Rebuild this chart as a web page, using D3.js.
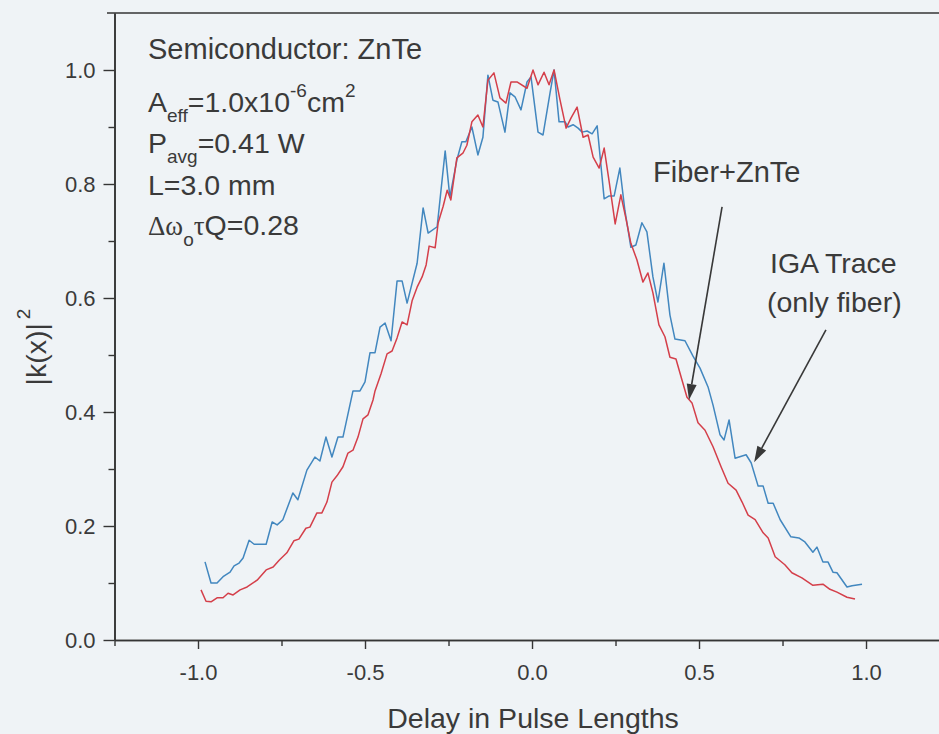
<!DOCTYPE html>
<html><head><meta charset="utf-8">
<script src="https://cdn.jsdelivr.net/npm/d3@7"></script>
<style>
html,body{margin:0;padding:0;background:#eef2f5;}
svg{display:block;font-family:Arial,"Liberation Sans",sans-serif;}
</style></head><body>
<svg id="chart" width="939" height="734"></svg>
<script>
// IGA trace (only fiber) — blue
const igaTrace = [
[-0.979,0.137],[-0.961,0.100],[-0.943,0.100],[-0.925,0.111],[-0.904,0.119],[-0.892,0.130],
[-0.877,0.135],[-0.865,0.144],[-0.847,0.175],[-0.832,0.168],[-0.796,0.168],[-0.778,0.207],
[-0.763,0.202],[-0.746,0.211],[-0.716,0.258],[-0.701,0.246],[-0.674,0.298],[-0.650,0.321],
[-0.635,0.314],[-0.617,0.356],[-0.599,0.321],[-0.581,0.356],[-0.566,0.356],[-0.536,0.437],
[-0.515,0.437],[-0.500,0.453],[-0.485,0.504],[-0.470,0.504],[-0.455,0.549],[-0.440,0.556],
[-0.422,0.525],[-0.404,0.630],[-0.389,0.630],[-0.374,0.591],[-0.344,0.661],[-0.326,0.758],
[-0.311,0.714],[-0.284,0.725],[-0.260,0.858],[-0.246,0.777],[-0.225,0.842],[-0.210,0.874],
[-0.198,0.874],[-0.180,0.900],[-0.162,0.851],[-0.147,0.882],[-0.132,0.991],[-0.117,0.947],
[-0.102,0.944],[-0.081,0.891],[-0.066,0.960],[-0.051,0.953],[-0.033,0.930],[-0.015,0.979],
[-0.003,0.988],[0.018,0.891],[0.033,0.886],[0.054,0.960],[0.066,1.000],[0.081,0.909],
[0.099,0.909],[0.108,0.900],[0.123,0.904],[0.138,0.898],[0.150,0.891],[0.165,0.893],
[0.180,0.888],[0.195,0.902],[0.216,0.774],[0.231,0.779],[0.246,0.779],[0.263,0.828],
[0.278,0.754],[0.296,0.689],[0.311,0.693],[0.329,0.732],[0.344,0.716],[0.362,0.637],
[0.377,0.593],[0.395,0.661],[0.413,0.570],[0.428,0.528],[0.458,0.525],[0.482,0.498],
[0.503,0.477],[0.527,0.444],[0.542,0.412],[0.563,0.360],[0.575,0.351],[0.590,0.386],
[0.608,0.319],[0.641,0.325],[0.656,0.311],[0.677,0.270],[0.692,0.270],[0.707,0.240],
[0.722,0.240],[0.743,0.211],[0.775,0.181],[0.799,0.179],[0.817,0.172],[0.841,0.154],
[0.853,0.163],[0.871,0.137],[0.886,0.137],[0.901,0.119],[0.913,0.118],[0.943,0.093],
[0.958,0.095],[0.988,0.098]
];
// Fiber + ZnTe — red
const fiberZnTe = [
[-0.991,0.088],[-0.976,0.068],[-0.961,0.067],[-0.943,0.074],[-0.925,0.074],[-0.910,0.082],
[-0.895,0.079],[-0.874,0.088],[-0.853,0.093],[-0.823,0.105],[-0.796,0.123],[-0.775,0.128],
[-0.757,0.140],[-0.734,0.153],[-0.713,0.174],[-0.698,0.177],[-0.677,0.196],[-0.665,0.198],
[-0.644,0.223],[-0.629,0.223],[-0.614,0.242],[-0.599,0.277],[-0.584,0.288],[-0.566,0.304],
[-0.551,0.328],[-0.536,0.333],[-0.521,0.356],[-0.506,0.388],[-0.491,0.395],[-0.476,0.421],
[-0.470,0.437],[-0.452,0.467],[-0.434,0.502],[-0.419,0.507],[-0.404,0.530],[-0.389,0.558],
[-0.374,0.553],[-0.359,0.595],[-0.344,0.619],[-0.329,0.637],[-0.317,0.658],[-0.308,0.691],
[-0.290,0.688],[-0.281,0.732],[-0.266,0.761],[-0.254,0.789],[-0.243,0.772],[-0.225,0.846],
[-0.207,0.854],[-0.195,0.868],[-0.180,0.909],[-0.162,0.921],[-0.147,0.900],[-0.132,0.982],
[-0.114,0.995],[-0.096,0.951],[-0.078,0.942],[-0.063,0.979],[-0.045,0.979],[-0.015,0.968],
[0.003,1.000],[0.018,0.974],[0.036,0.996],[0.051,0.974],[0.066,1.000],[0.084,0.947],
[0.102,0.898],[0.117,0.916],[0.135,0.935],[0.153,0.882],[0.168,0.886],[0.183,0.847],
[0.201,0.828],[0.216,0.863],[0.231,0.804],[0.249,0.730],[0.266,0.781],[0.281,0.740],
[0.296,0.696],[0.314,0.667],[0.332,0.628],[0.347,0.644],[0.362,0.609],[0.380,0.553],
[0.398,0.532],[0.413,0.496],[0.431,0.493],[0.449,0.456],[0.464,0.426],[0.479,0.416],
[0.497,0.381],[0.518,0.368],[0.542,0.339],[0.566,0.304],[0.587,0.275],[0.611,0.263],
[0.629,0.242],[0.647,0.219],[0.668,0.211],[0.692,0.188],[0.707,0.179],[0.728,0.146],
[0.757,0.132],[0.778,0.118],[0.808,0.109],[0.841,0.096],[0.871,0.098],[0.892,0.089],
[0.913,0.084],[0.943,0.075],[0.967,0.072]
];
const xTicks = [-1.0, -0.5, 0.0, 0.5, 1.0];
const xMinorTicks = [-1.25, -0.75, -0.25, 0.25, 0.75];
const yTicks = [0.0, 0.2, 0.4, 0.6, 0.8, 1.0];
const yMinorTicks = [0.1, 0.3, 0.5, 0.7, 0.9];
const xTitle = "Delay in Pulse Lengths";
// arrows: [fromX, fromY, tipX, tipY] in data units
const fiberArrow = [0.569, 0.760, 0.470, 0.421];
const igaArrow = [0.880, 0.544, 0.665, 0.312];

const svg = d3.select("#chart");
const W = 939, H = 734;
const x = d3.scaleLinear().domain([-1.25, 1.22]).range([114.5, 939.5]);
const y = d3.scaleLinear().domain([0, 1.1]).range([640, 13]);
const ink = "#353535";
const fmt = d => d.toFixed(1);

svg.append("rect").attr("width", W).attr("height", H).attr("fill", "#eff3f6");

// axes
const gx = svg.append("g").attr("transform", "translate(0,640)")
  .call(d3.axisBottom(x).tickValues(xTicks).tickFormat(fmt).tickSize(9).tickPadding(15).tickSizeOuter(0));
svg.append("g").attr("transform", "translate(0,640)")
  .call(d3.axisBottom(x).tickValues(xMinorTicks).tickFormat("").tickSize(6).tickSizeOuter(0));
const gy = svg.append("g").attr("transform", "translate(114.5,0)")
  .call(d3.axisLeft(y).tickValues(yTicks).tickFormat(fmt).tickSize(11).tickPadding(8).tickSizeOuter(0));
svg.append("g").attr("transform", "translate(114.5,0)")
  .call(d3.axisLeft(y).tickValues(yMinorTicks).tickFormat("").tickSize(6).tickSizeOuter(0));
svg.selectAll(".domain").attr("stroke", ink).attr("stroke-width", 1.6);
svg.selectAll(".tick line").attr("stroke", ink).attr("stroke-width", 1.4);
svg.selectAll(".tick text").attr("fill", "#3a3a3a").attr("font-size", 22)
  .attr("font-family", "Arial, 'Liberation Sans', sans-serif");
gy.selectAll(".tick text").attr("dy", "0.34em");

// top frame line
svg.append("line").attr("x1", 107).attr("x2", W).attr("y1", 13).attr("y2", 13)
  .attr("stroke", ink).attr("stroke-width", 1.6);

// data lines
const line = d3.line().x(d => x(d[0])).y(d => y(d[1]));
svg.append("path").datum(igaTrace).attr("d", line).attr("fill", "none")
  .attr("stroke", "#4287bf").attr("stroke-width", 1.5).attr("stroke-linejoin", "round");
svg.append("path").datum(fiberZnTe).attr("d", line).attr("fill", "none")
  .attr("stroke", "#d43f4a").attr("stroke-width", 1.5).attr("stroke-linejoin", "round");

// axis titles
svg.append("text").attr("x", 533).attr("y", 728).attr("text-anchor", "middle")
  .attr("font-size", 28.5).attr("fill", "#3a3a3a").text(xTitle);
const yt = svg.append("text").attr("transform", "translate(46,347) rotate(-90)")
  .attr("text-anchor", "middle").attr("font-size", 28.5).attr("fill", "#3a3a3a");
yt.append("tspan").text("|k(x)|");
yt.append("tspan").attr("font-size", 19).attr("dy", -16).attr("dx", 4).text("2");

// annotation block
const tc = "#3a3a3a";
const serif = "'Liberation Serif','DejaVu Serif',serif";
const ann = svg.append("g").attr("fill", tc);
ann.append("text").attr("x", 148).attr("y", 59).attr("font-size", 29).text("Semiconductor: ZnTe");
let t = ann.append("text").attr("x", 148).attr("y", 112).attr("font-size", 28.5);
t.append("tspan").text("A");
t.append("tspan").attr("font-size", 19).attr("dy", 10).text("eff");
t.append("tspan").attr("dy", -10).text("=1.0x10");
t.append("tspan").attr("font-size", 19).attr("dy", -15).text("-6");
t.append("tspan").attr("dy", 15).text("cm");
t.append("tspan").attr("font-size", 19).attr("dy", -15).text("2");
t = ann.append("text").attr("x", 148).attr("y", 153).attr("font-size", 28.5);
t.append("tspan").text("P");
t.append("tspan").attr("font-size", 19).attr("dy", 10).text("avg");
t.append("tspan").attr("dy", -10).text("=0.41 W");
ann.append("text").attr("x", 148).attr("y", 195).attr("font-size", 28.5).text("L=3.0 mm");
t = ann.append("text").attr("x", 148).attr("y", 235).attr("font-size", 28.5);
t.append("tspan").attr("font-family", serif).attr("font-size", 27).text("Δω");
t.append("tspan").attr("font-size", 19).attr("dy", 11).text("o");
t.append("tspan").attr("dy", -11).attr("font-family", serif).attr("font-size", 27).text("τ");
t.append("tspan").text("Q=0.28");

ann.append("text").attr("x", 653).attr("y", 182).attr("font-size", 29).text("Fiber+ZnTe");
ann.append("text").attr("x", 770).attr("y", 273).attr("font-size", 28.5).text("IGA Trace");
ann.append("text").attr("x", 767).attr("y", 312).attr("font-size", 28.5).text("(only fiber)");

// arrows
function arrow(a) {
  const x1 = x(a[0]), y1 = y(a[1]), x2 = x(a[2]), y2 = y(a[3]);
  const ang = Math.atan2(y2 - y1, x2 - x1);
  const L = 16, hw = 5;
  const bx = x2 - L * Math.cos(ang), by = y2 - L * Math.sin(ang);
  svg.append("line").attr("x1", x1).attr("y1", y1).attr("x2", bx).attr("y2", by)
    .attr("stroke", "#383838").attr("stroke-width", 1.6);
  const px = -Math.sin(ang) * hw, py = Math.cos(ang) * hw;
  svg.append("polygon")
    .attr("points", [[x2, y2], [bx + px, by + py], [bx - px, by - py]].map(p => p.join(",")).join(" "))
    .attr("fill", "#383838");
}
arrow(fiberArrow);
arrow(igaArrow);
</script>
</body></html>
